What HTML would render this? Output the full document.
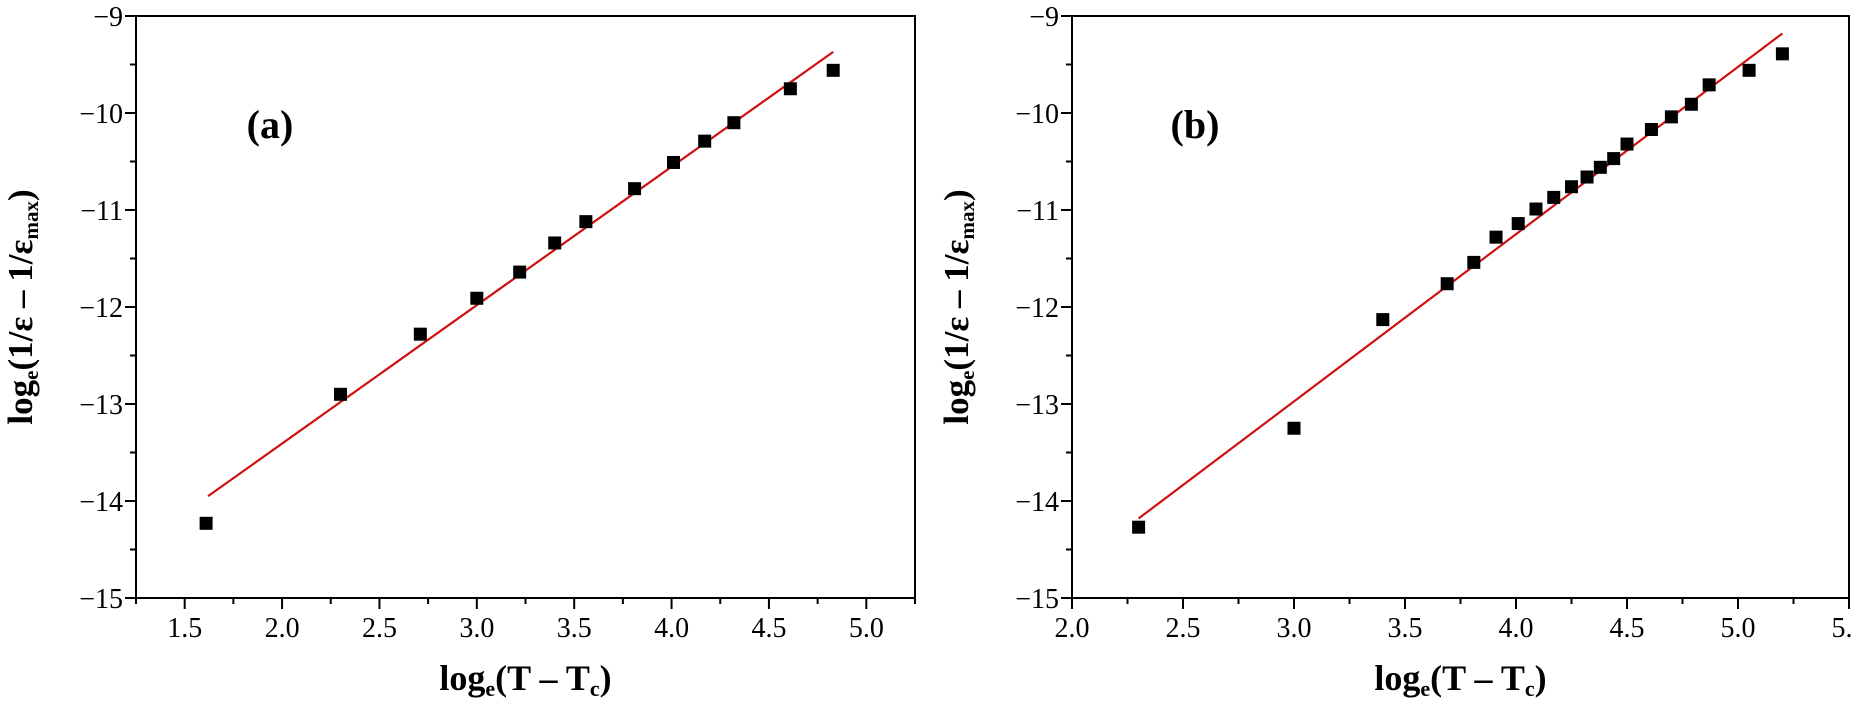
<!DOCTYPE html>
<html><head><meta charset="utf-8"><style>
html,body{margin:0;padding:0;background:#fff}
svg{display:block}
text{font-family:"Liberation Serif","DejaVu Serif",serif;fill:#000}
</style></head><body>
<svg id="chart" width="1852" height="704" viewBox="0 0 1852 704" xmlns="http://www.w3.org/2000/svg" font-family="Liberation Serif, serif"></svg>
<script>
const aX=[1.61,2.30,2.71,3.00,3.22,3.40,3.56,3.81,4.01,4.17,4.32,4.61,4.83];
const aY=[-14.23,-12.90,-12.28,-11.91,-11.64,-11.34,-11.12,-10.78,-10.51,-10.29,-10.10,-9.75,-9.56];
const aFitX=[1.62,4.83];
const aFitY=[-13.95,-9.37];
const bX=[2.30,3.00,3.40,3.69,3.81,3.91,4.01,4.09,4.17,4.25,4.32,4.38,4.44,4.50,4.61,4.70,4.79,4.87,5.05,5.20];
const bY=[-14.27,-13.25,-12.13,-11.76,-11.54,-11.28,-11.14,-10.99,-10.87,-10.76,-10.66,-10.56,-10.47,-10.32,-10.17,-10.04,-9.91,-9.71,-9.56,-9.39];
const bFitX=[2.30,5.20];
const bFitY=[-14.18,-9.18];
const aXTicks=["1.5","2.0","2.5","3.0","3.5","4.0","4.5","5.0"];
const bXTicks=["2.0","2.5","3.0","3.5","4.0","4.5","5.0","5.5"];
const yTicks=["−9","−10","−11","−12","−13","−14","−15"];
const NS="http://www.w3.org/2000/svg";
const svg=document.getElementById('chart');
const FF='"Liberation Serif", serif';
function el(t,a,p){const e=document.createElementNS(NS,t);for(const k in a)e.setAttribute(k,a[k]);(p||svg).appendChild(e);return e;}
function panel(cfg){
  const g=el('g',{});
  
  
  const L=cfg.left,R=cfg.right,T=16,B=598;
  const sx=v=>L+(v-cfg.xmin)*(R-L)/(cfg.xmax-cfg.xmin);
  const sy=v=>T+(-9-v)*(B-T)/6;
  const fr=el('rect',{x:L,y:T,width:R-L,height:B-T,fill:'none',stroke:'#000','stroke-width':2},g);
  
  
  for(let v=cfg.xmin;v<=cfg.xmax+1e-6;v+=0.25){
    const major=Math.abs(v*2-Math.round(v*2))<1e-6;
    el('line',{x1:sx(v),x2:sx(v),y1:B,y2:B+(major?11:6),stroke:'#000','stroke-width':2},g);
  }
  cfg.xt.forEach(s=>{
    const t=el('text',{x:sx(parseFloat(s)),y:637,'font-size':28,'text-anchor':'middle','font-family':FF},g);
    t.textContent=s;
    
    
  });
  for(let v=-9;v>=-15;v-=0.5){
    const major=Number.isInteger(v);
    el('line',{x1:L,x2:L-(major?11:6),y1:sy(v),y2:sy(v),stroke:'#000','stroke-width':2},g);
  }
  yTicks.forEach((s,i)=>{
    const t=el('text',{x:L-13,y:sy(-9-i)+10,'font-size':28,'text-anchor':'end','font-family':FF},g);
    t.textContent=s;
    
    
  });
  const ln=el('line',{x1:sx(cfg.fx[0]),y1:sy(cfg.fy[0]),x2:sx(cfg.fx[1]),y2:sy(cfg.fy[1]),stroke:'#d01010','stroke-width':2.2},g);
  
  
  cfg.px.forEach((x,i)=>{
    const r=el('rect',{x:sx(x)-6.5,y:sy(cfg.py[i])-6.5,width:13,height:13,fill:'#000'},g);
    
    
  });
  const xt=el('text',{x:(L+R)/2,y:690,'font-size':36,'font-weight':'bold','text-anchor':'middle','font-family':FF},g);
  xt.innerHTML='log<tspan font-size="22" dy="6">e</tspan><tspan dy="-6">(T – T</tspan><tspan font-size="22" dy="6">c</tspan><tspan dy="-6">)</tspan>';
  
  
  const cy=(T+B)/2;
  const yt=el('text',{x:cfg.ylx,y:cy,'font-size':35,'font-weight':'bold','text-anchor':'middle','font-family':FF,transform:`rotate(-90 ${cfg.ylx} ${cy})`},g);
  yt.innerHTML='log<tspan font-size="21" dy="6">e</tspan><tspan dy="-6">(1/ε – 1/ε</tspan><tspan font-size="21" dy="6">max</tspan><tspan dy="-6">)</tspan>';
  
  
  const pl=el('text',{x:cfg.lx,y:138,'font-size':40,'font-weight':'bold','text-anchor':'middle','font-family':FF},g);
  pl.textContent=cfg.label;
  
  
}
panel({name:'panel-a',left:136,right:915,xmin:1.25,xmax:5.25,xt:aXTicks,px:aX,py:aY,fx:aFitX,fy:aFitY,ylx:32,lx:270,label:'(a)'});
panel({name:'panel-b',left:1072,right:1849,xmin:2.0,xmax:5.5,xt:bXTicks,px:bX,py:bY,fx:bFitX,fy:bFitY,ylx:968,lx:1195,label:'(b)'});
</script>
</body></html>
